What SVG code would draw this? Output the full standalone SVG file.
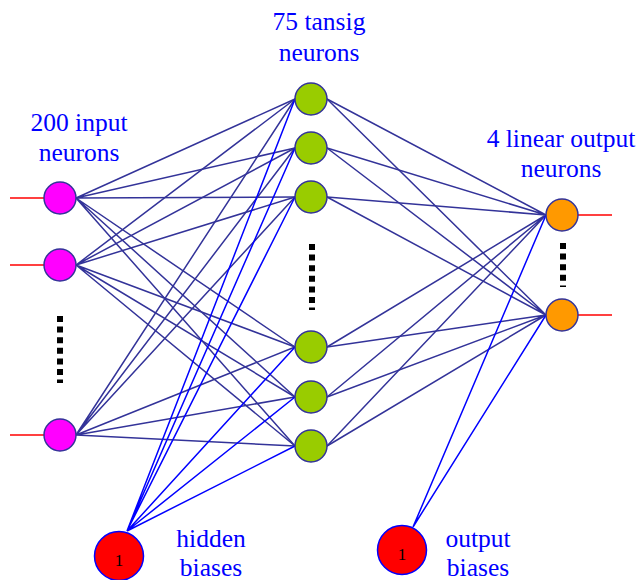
<svg xmlns="http://www.w3.org/2000/svg" width="638" height="580" viewBox="0 0 638 580">
  <style>
    text { font-family: "Liberation Serif", "Times New Roman", Times, "DejaVu Serif", serif; }
    .lbl { font-size: 25.5px; fill: #0000ff; text-anchor: middle; }
    .one { font-size: 17px; fill: #000; text-anchor: middle; }
    .w { stroke: #333399; stroke-width: 1.5; fill: none; }
    .b { stroke: #0000ff; stroke-width: 1.5; fill: none; }
    .io { stroke: #ff0000; stroke-width: 1.5; }
    .dots { stroke: #000; stroke-width: 6; stroke-dasharray: 6 4.6; }
    .inp { fill: #ff00ff; stroke: #333399; stroke-width: 1.5; }
    .hid { fill: #99cc00; stroke: #333399; stroke-width: 1.5; }
    .out { fill: #ff9900; stroke: #333399; stroke-width: 1.5; }
    .bias { fill: #ff0000; stroke: #0000ff; stroke-width: 1.5; }
  </style>

  <!-- connectors -->
  <g id="connectors">
    <!-- input to hidden weights -->
    <g class="w">
      <path d="M76 198L295 99M76 198L295 148M76 198L295 197M76 198L295 347M76 198L295 397M76 198L295 446"/>
      <path d="M76 265L295 99M76 265L295 148M76 265L295 197M76 265L295 347M76 265L295 397M76 265L295 446"/>
      <path d="M76 435L295 99M76 435L295 148M76 435L295 197M76 435L295 347M76 435L295 397M76 435L295 446"/>
    </g>
    <!-- hidden to output weights -->
    <g class="w">
      <path d="M327 99L546 215M327 148L546 215M327 197L546 215M327 347L546 215M327 397L546 215M327 446L546 215"/>
      <path d="M327 99L546 315M327 148L546 315M327 197L546 315M327 347L546 315M327 397L546 315M327 446L546 315"/>
    </g>
    <!-- bias links -->
    <g class="b">
      <path d="M127 531L295 99M127 531L295 148M127 531L295 197M127 531L295 347M127 531L295 397M127 531L295 446"/>
      <path d="M413 527L546 215M413 527L546 315"/>
    </g>
    <!-- external inputs and outputs -->
    <g class="io">
      <line x1="10" y1="198" x2="44" y2="198"/>
      <line x1="10" y1="265" x2="44" y2="265"/>
      <line x1="10" y1="435" x2="44" y2="435"/>
      <line x1="578" y1="215" x2="612" y2="215"/>
      <line x1="578" y1="315" x2="612" y2="315"/>
    </g>
  </g>

  <!-- ellipsis markers -->
  <line class="dots" x1="60" y1="316" x2="60" y2="383"/>
  <line class="dots" x1="312" y1="244" x2="312" y2="310"/>
  <line class="dots" x1="563" y1="243" x2="563" y2="287"/>

  <!-- input layer -->
  <g id="in1"><circle class="inp" cx="60" cy="198" r="16"/></g>
  <g id="in2"><circle class="inp" cx="60" cy="265" r="16"/></g>
  <g id="in3"><circle class="inp" cx="60" cy="435" r="16"/></g>

  <!-- hidden layer -->
  <g id="h1"><circle class="hid" cx="311" cy="99" r="16"/></g>
  <g id="h2"><circle class="hid" cx="311" cy="148" r="16"/></g>
  <g id="h3"><circle class="hid" cx="311" cy="197" r="16"/></g>
  <g id="h4"><circle class="hid" cx="311" cy="347" r="16"/></g>
  <g id="h5"><circle class="hid" cx="311" cy="397" r="16"/></g>
  <g id="h6"><circle class="hid" cx="311" cy="446" r="16"/></g>

  <!-- output layer -->
  <g id="o1"><circle class="out" cx="562" cy="215" r="16"/></g>
  <g id="o2"><circle class="out" cx="562" cy="315" r="16"/></g>

  <!-- bias units -->
  <g id="hbias"><circle class="bias" cx="119" cy="556" r="24.5"/><text class="one" x="119" y="566">1</text></g>
  <g id="obias"><circle class="bias" cx="402" cy="550" r="24.5"/><text class="one" x="402" y="560">1</text></g>

  <!-- labels -->
  <g id="labels">
    <text class="lbl" x="79" y="131">200 input</text>
    <text class="lbl" x="79" y="161">neurons</text>
    <text class="lbl" x="319" y="30">75 tansig</text>
    <text class="lbl" x="319" y="61">neurons</text>
    <text class="lbl" x="561" y="147">4 linear output</text>
    <text class="lbl" x="561" y="177">neurons</text>
    <text class="lbl" x="211" y="547">hidden</text>
    <text class="lbl" x="211" y="576">biases</text>
    <text class="lbl" x="478" y="547">output</text>
    <text class="lbl" x="478" y="576">biases</text>
  </g>
</svg>
